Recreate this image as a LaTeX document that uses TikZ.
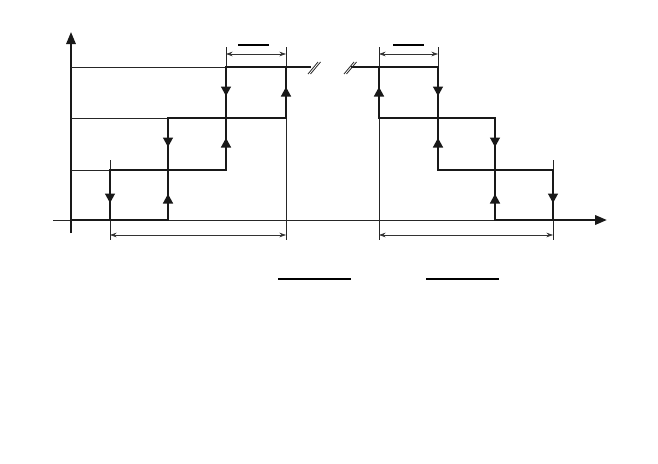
\documentclass[tikz,border=0pt]{standalone}
\usetikzlibrary{arrows.meta}
\begin{document}
\begin{tikzpicture}[x=0.75pt,y=-0.75pt,
  thinln/.style={line width=0.6pt,black!85},
  thickln/.style={line width=1.9pt,black!90,line cap=rect},
  dimln/.style={line width=0.5pt,black!80,{Stealth[length=5pt,width=3.5pt]}-{Stealth[length=5pt,width=3.5pt]}},
  barln/.style={line width=0.9pt,black},
  uptri/.pic={\fill[black!90] (-5.2,4.5) -- (5.2,4.5) -- (0,-5) -- cycle;},
  dntri/.pic={\fill[black!90] (-5.2,-4.5) -- (5.2,-4.5) -- (0,5) -- cycle;}]
\useasboundingbox (0,0) rectangle (658,464);
% axes
\draw[line width=1.5pt,black!90,-{Triangle[length=9pt,width=7pt]}] (71,233) -- (71,32);
\draw[thinln] (53,220) -- (495,220);
\draw[thickln,-{Triangle[length=9pt,width=7pt]}] (495,220) -- (607,220);
% thin level lines
\draw[thinln] (71,67) -- (226,67);
\draw[thinln] (71,118) -- (168,118);
\draw[thinln] (71,170) -- (110,170);
% thin extension lines left
\draw[thinln] (110,160) -- (110,240);
\draw[thinln] (226,47) -- (226,67);
\draw[thinln] (286,47) -- (286,240);
% thin extension lines right
\draw[thinln] (379,47) -- (379,240);
\draw[thinln] (438,47) -- (438,67);
\draw[thinln] (553,160) -- (553,240);
% left staircase
\draw[thickln] (71,220) -- (168,220);
\draw[thickln] (110,220) -- (110,170) -- (226,170) -- (226,67) -- (310,67);
\draw[thickln] (168,220) -- (168,118) -- (286,118) -- (286,67);
% right staircase
\draw[thickln] (352,67) -- (438,67) -- (438,170) -- (553,170) -- (553,220);
\draw[thickln] (379,67) -- (379,118) -- (495,118) -- (495,220);
% break marks
\draw[thinln] (308,74) -- (318,62);
\draw[thinln] (310.5,74) -- (320.5,62);
\draw[thinln] (344,74) -- (354,62);
\draw[thinln] (346.5,74) -- (356.5,62);
% direction triangles left
\pic at (110,198) {dntri};
\pic at (168,199) {uptri};
\pic at (168,142) {dntri};
\pic at (226,143) {uptri};
\pic at (226,91) {dntri};
\pic at (286,92) {uptri};
% direction triangles right
\pic at (379,92) {uptri};
\pic at (438,91) {dntri};
\pic at (438,143) {uptri};
\pic at (495,142) {dntri};
\pic at (495,199) {uptri};
\pic at (553,198) {dntri};
% dimension lines
\draw[dimln] (226,54) -- (286,54);
\draw[dimln] (379,54) -- (438,54);
\draw[dimln] (110,235) -- (286,235);
\draw[dimln] (379,235) -- (553,235);
% overbars
\draw[barln] (238,45) -- (269,45);
\draw[barln] (393,45) -- (424,45);
\draw[barln] (278,279) -- (351,279);
\draw[barln] (426,279) -- (499,279);
\end{tikzpicture}
\end{document}
